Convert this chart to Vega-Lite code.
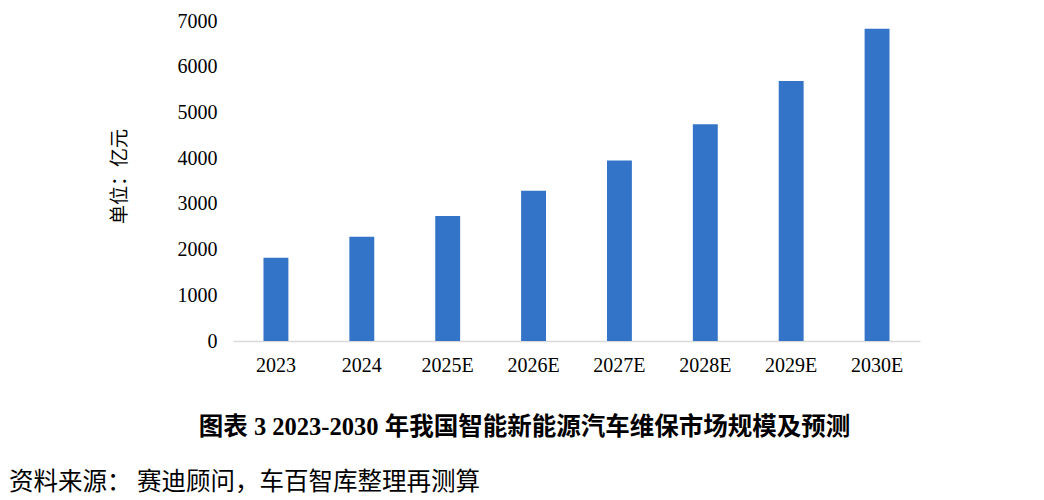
{
  "$schema": "https://vega.github.io/schema/vega-lite/v6.json",
  "width": 687,
  "height": 320,
  "autosize": "none",
  "padding": {"left": 233, "top": 21, "right": 124, "bottom": 159},
  "background": "white",
  "data": {
    "values": [
      {"year": "2023", "value": 1823},
      {"year": "2024", "value": 2281},
      {"year": "2025E", "value": 2732},
      {"year": "2026E", "value": 3287},
      {"year": "2027E", "value": 3949},
      {"year": "2028E", "value": 4742},
      {"year": "2029E", "value": 5690},
      {"year": "2030E", "value": 6833}
    ]
  },
  "mark": {"type": "bar", "color": "#3374c8"},
  "encoding": {
    "x": {
      "field": "year",
      "type": "nominal",
      "sort": null,
      "scale": {"paddingInner": 0.71, "paddingOuter": 0.355},
      "axis": {
        "labelAngle": 0,
        "ticks": false,
        "domainColor": "#d9d9d9",
        "domainWidth": 1.5,
        "labelFont": "Liberation Serif",
        "labelFontSize": 20,
        "labelColor": "#000000",
        "labelPadding": 14,
        "title": "图表 3 2023-2030 年我国智能新能源汽车维保市场规模及预测",
        "titleFont": "Liberation Serif, Noto Sans CJK SC",
        "titleFontSize": 24.5,
        "titleFontWeight": "bold",
        "titleColor": "#000000",
        "titleX": 291,
        "titleY": 93,
        "titleAlign": "center",
        "titleBaseline": "alphabetic"
      }
    },
    "y": {
      "field": "value",
      "type": "quantitative",
      "scale": {"domain": [0, 7000], "nice": false},
      "axis": {
        "domain": false,
        "ticks": false,
        "grid": false,
        "format": "d",
        "values": [0, 1000, 2000, 3000, 4000, 5000, 6000, 7000],
        "labelFont": "Liberation Serif",
        "labelFontSize": 20,
        "labelColor": "#000000",
        "labelPadding": 16,
        "title": "单位：亿元",
        "titleFont": "Noto Sans CJK SC",
        "titleFontSize": 19,
        "titleFontWeight": "normal",
        "titleColor": "#000000",
        "titleX": -114,
        "titleY": 155,
        "titleAlign": "center",
        "titleBaseline": "middle",
        "titleAngle": -90
      }
    }
  },
  "title": {
    "text": "资料来源：  赛迪顾问，车百智库整理再测算",
    "orient": "bottom",
    "anchor": "start",
    "frame": "bounds",
    "dx": -101,
    "offset": 32,
    "font": "Noto Sans CJK SC",
    "fontSize": 24.5,
    "fontWeight": "normal",
    "color": "#000000"
  },
  "config": {"view": {"stroke": null}}
}
